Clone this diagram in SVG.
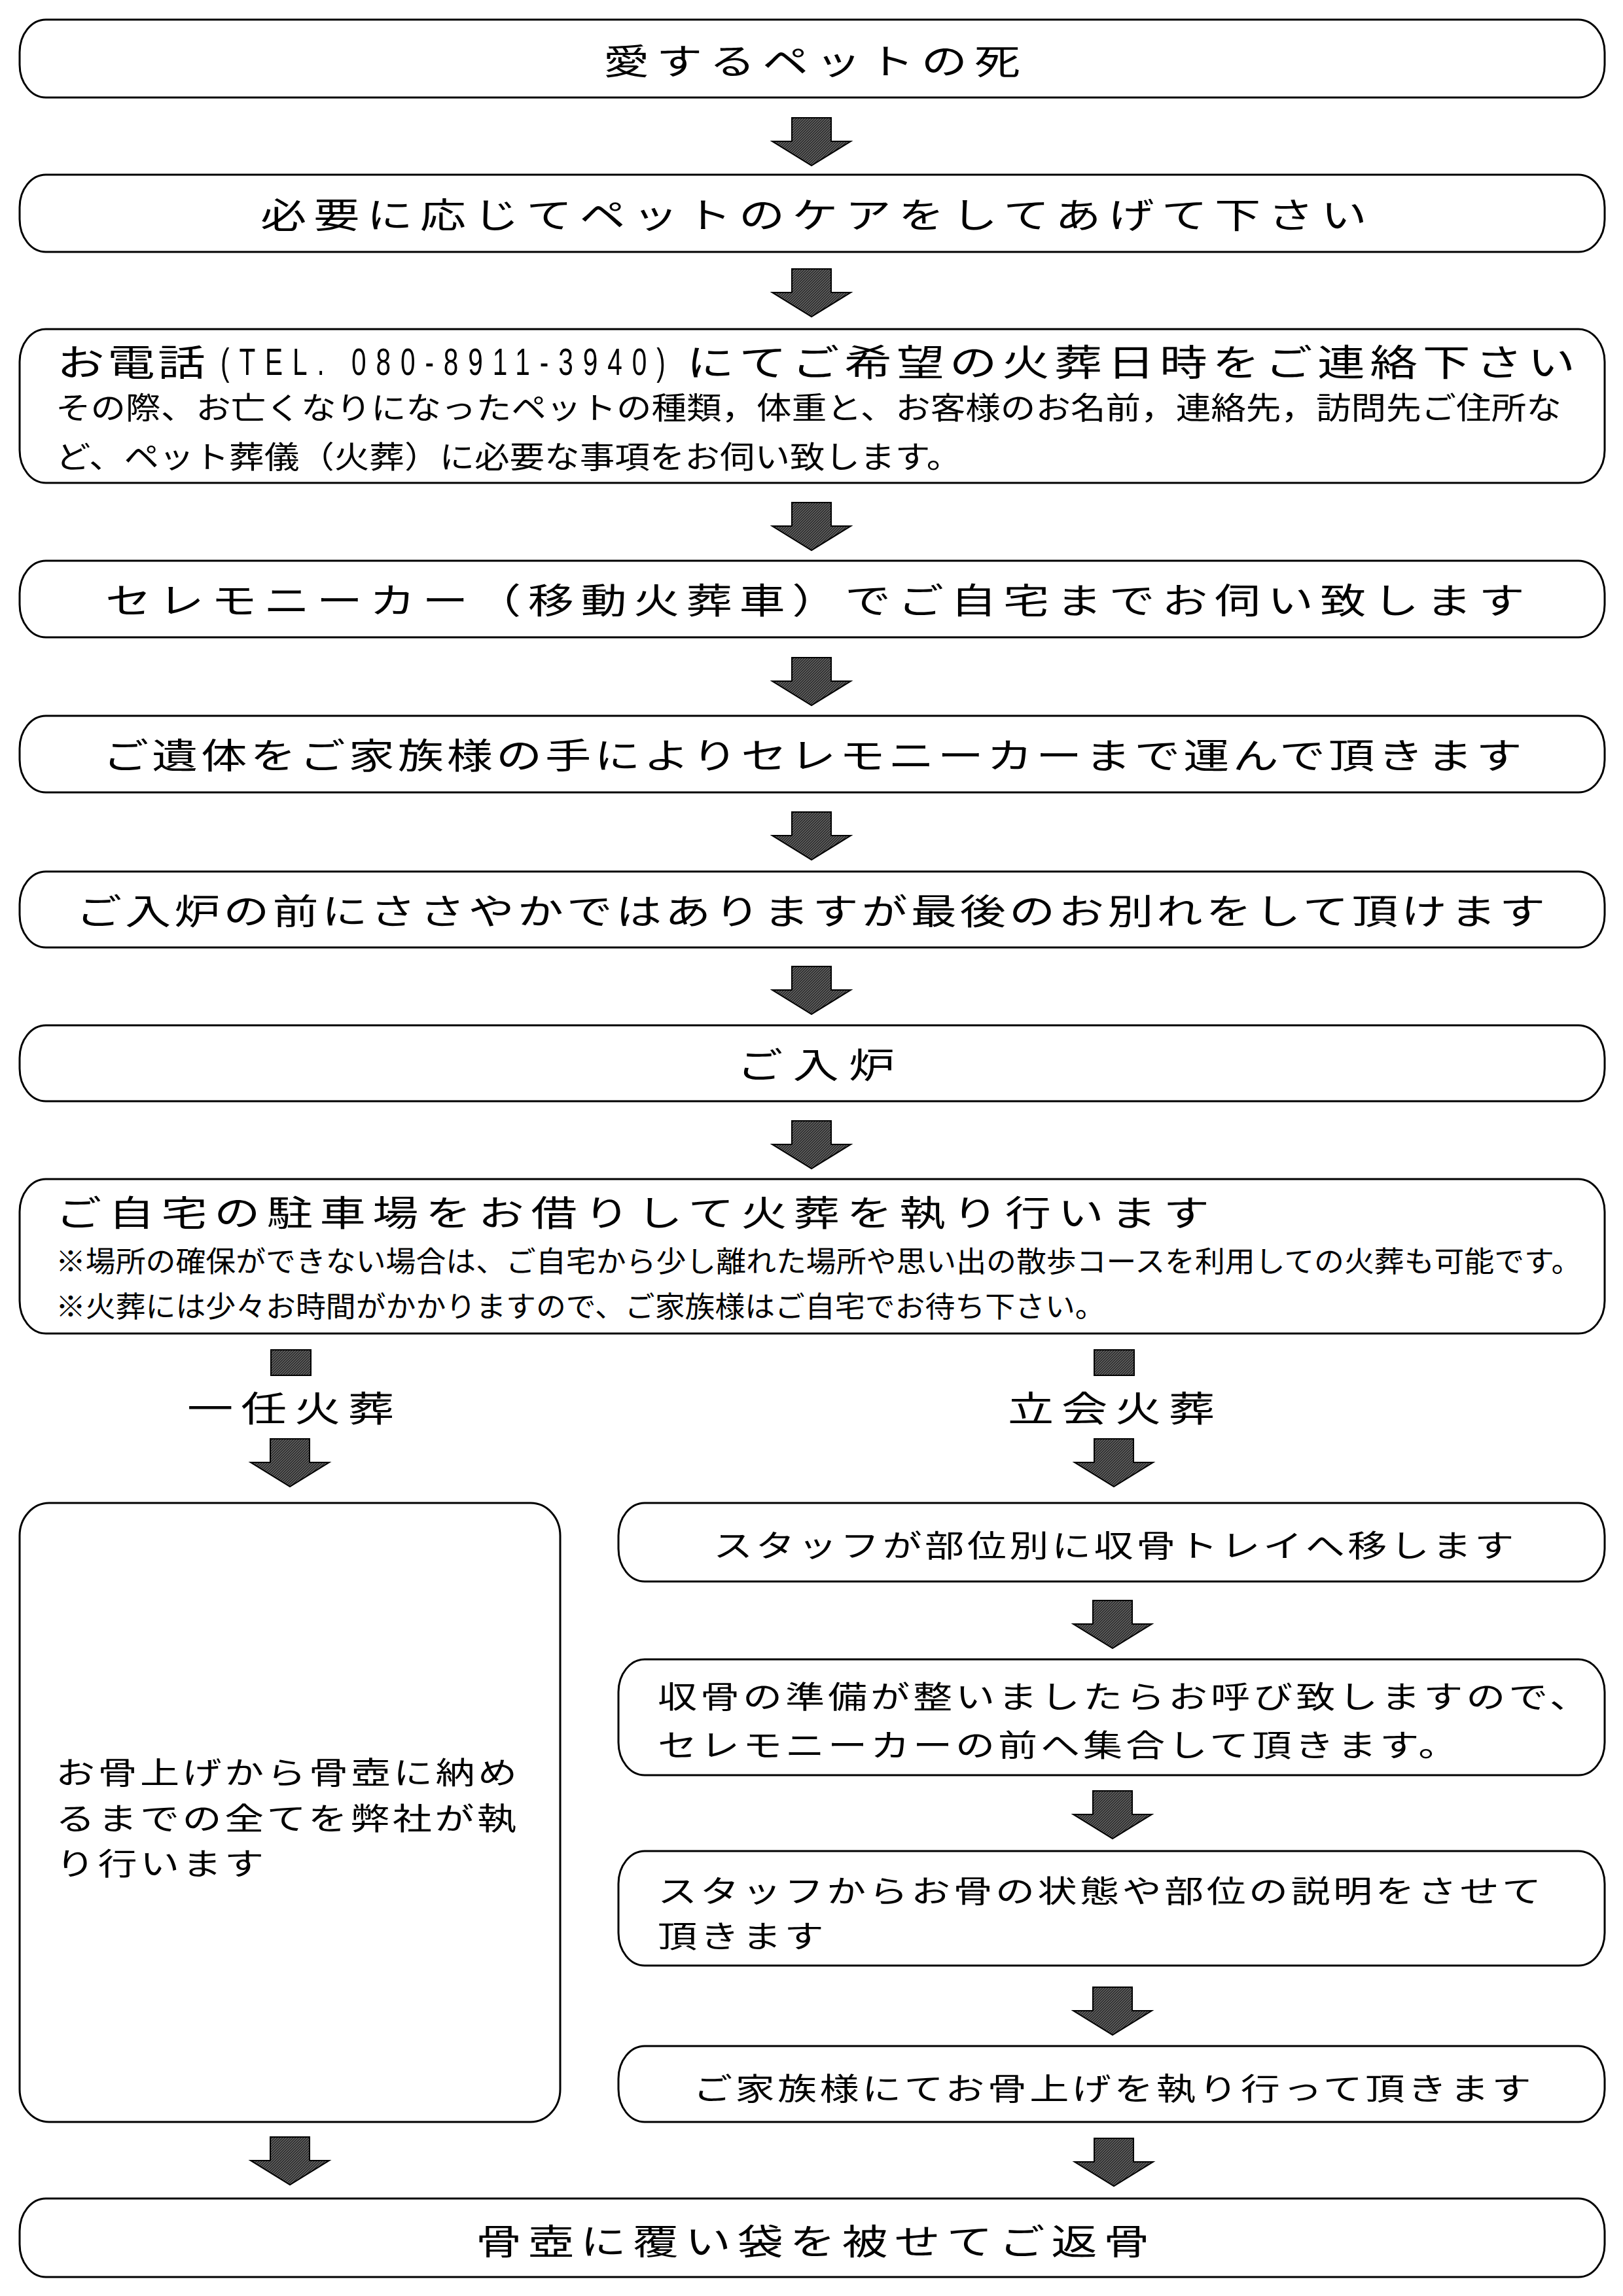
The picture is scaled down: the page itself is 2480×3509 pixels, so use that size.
<svg xmlns="http://www.w3.org/2000/svg" xmlns:xlink="http://www.w3.org/1999/xlink" width="2480" height="3509" viewBox="0 0 2480 3509">
<style>
.box{fill:#fff;stroke:#000;stroke-width:3}
.t{font-family:"Noto Sans CJK JP","Noto Sans CJK SC",sans-serif;fill:#000}
.big{font-size:54px}
.mid{font-size:47px}
.sm{font-size:44px}
.tel{font-family:"Liberation Sans",sans-serif;font-size:58px;fill:#000}
.arr{fill:url(#hatch);stroke:#000;stroke-width:2}
</style>
<defs>
<pattern id="hatch" width="4" height="4" patternUnits="userSpaceOnUse">
<rect width="4" height="4" fill="#353535"/>
<path d="M-1,1 L1,-1 M0,4 L4,0 M3,5 L5,3" stroke="#8c8c8c" stroke-width="0.8"/>
</pattern>
<path id="arrow" d="M-30,0 H30 V36 H60 L0,73 L-60,36 H-30 Z"/>
</defs>
<rect width="2480" height="3509" fill="#fff"/>

<g id="connectors">
<use xlink:href="#arrow" class="arr" x="1240" y="180"/>
<use xlink:href="#arrow" class="arr" x="1240" y="411"/>
<use xlink:href="#arrow" class="arr" x="1240" y="768"/>
<use xlink:href="#arrow" class="arr" x="1240" y="1005"/>
<use xlink:href="#arrow" class="arr" x="1240" y="1241"/>
<use xlink:href="#arrow" class="arr" x="1240" y="1477"/>
<use xlink:href="#arrow" class="arr" x="1240" y="1713"/>
<rect class="arr" x="414" y="2063" width="61" height="39"/>
<rect class="arr" x="1672" y="2063" width="61" height="39"/>
<use xlink:href="#arrow" class="arr" x="443" y="2199"/>
<use xlink:href="#arrow" class="arr" x="1702" y="2199"/>
<use xlink:href="#arrow" class="arr" x="1700" y="2446"/>
<use xlink:href="#arrow" class="arr" x="1700" y="2737"/>
<use xlink:href="#arrow" class="arr" x="1700" y="3037"/>
<use xlink:href="#arrow" class="arr" x="443" y="3266"/>
<use xlink:href="#arrow" class="arr" x="1702" y="3268"/>
</g>

<g id="n1">
<rect class="box" x="30" y="30" width="2422" height="119" rx="40" ry="50"/>
<text class="t big" transform="matrix(1.3,0,0,1,922,114)" letter-spacing="8.3">愛するペットの死</text>
</g>

<g id="n2">
<rect class="box" x="30" y="267" width="2422" height="118" rx="40" ry="50"/>
<text class="t big" transform="matrix(1.3,0,0,1,398,349)" letter-spacing="8.5">必要に応じてペットのケアをしてあげて下さい</text>
</g>

<g id="n3">
<rect class="box" x="30" y="503" width="2422" height="235" rx="40" ry="50"/>
<text class="t" font-size="56" transform="matrix(1.3,0,0,1,87,574)" letter-spacing="3.2">お電話</text>
<text class="tel" transform="matrix(0.7,0,0,1,337,573)" textLength="971" lengthAdjust="spacing">(TEL. 080-8911-3940)</text>
<text class="t" font-size="56" transform="matrix(1.3,0,0,1,1049,574)" letter-spacing="5.8">にてご希望の火葬日時をご連絡下さい</text>
<text class="t" font-size="47" transform="matrix(1.14,0,0,1,85,640)">その際、お亡くなりになったペットの種類，体重と、お客様のお名前，連絡先，訪問先ご住所な</text>
<text class="t" font-size="47" transform="matrix(1.14,0,0,1,85,715)">ど、ペット葬儀（火葬）に必要な事項をお伺い致します。</text>
</g>

<g id="n4">
<rect class="box" x="30" y="857" width="2422" height="117" rx="40" ry="50"/>
<text class="t big" transform="matrix(1.3,0,0,1,161,938)" letter-spacing="8.1">セレモニーカー（移動火葬車）でご自宅までお伺い致します</text>
</g>

<g id="n5">
<rect class="box" x="30" y="1094" width="2422" height="117" rx="40" ry="50"/>
<text class="t big" transform="matrix(1.3,0,0,1,157,1175)" letter-spacing="3.8">ご遺体をご家族様の手によりセレモニーカーまで運んで頂きます</text>
</g>

<g id="n6">
<rect class="box" x="30" y="1332" width="2422" height="116" rx="40" ry="50"/>
<text class="t big" transform="matrix(1.3,0,0,1,116,1413)" letter-spacing="3.8">ご入炉の前にささやかではありますが最後のお別れをして頂けます</text>
</g>

<g id="n7">
<rect class="box" x="30" y="1567" width="2422" height="116" rx="40" ry="50"/>
<text class="t big" transform="matrix(1.3,0,0,1,1126,1648)" letter-spacing="11.8">ご入炉</text>
</g>

<g id="n8">
<rect class="box" x="30" y="1802" width="2422" height="236" rx="40" ry="50"/>
<text class="t big" transform="matrix(1.3,0,0,1,85,1874)" letter-spacing="8.1">ご自宅の駐車場をお借りして火葬を執り行います</text>
<text class="t sm" transform="matrix(1.043,0,0,1,85,1944)">※場所の確保ができない場合は、ご自宅から少し離れた場所や思い出の散歩コースを利用しての火葬も可能です。</text>
<text class="t sm" transform="matrix(1.043,0,0,1,85,2013)">※火葬には少々お時間がかかりますので、ご家族様はご自宅でお待ち下さい。</text>
</g>

<g id="label-left">
<text class="t big" transform="matrix(1.3,0,0,1,286,2173)" letter-spacing="9.1">一任火葬</text>
</g>
<g id="label-right">
<text class="t big" transform="matrix(1.3,0,0,1,1540,2173)" letter-spacing="9.1">立会火葬</text>
</g>

<g id="left-box">
<rect class="box" x="30" y="2297" width="826" height="946" rx="45" ry="50"/>
<text class="t mid" transform="matrix(1.28,0,0,1,85,2726)" letter-spacing="3.4">お骨上げから骨壺に納め</text>
<text class="t mid" transform="matrix(1.28,0,0,1,85,2796)" letter-spacing="3.4">るまでの全てを弊社が執</text>
<text class="t mid" transform="matrix(1.28,0,0,1,85,2865)" letter-spacing="3.4">り行います</text>
</g>

<g id="r1">
<rect class="box" x="945" y="2297" width="1507" height="120" rx="40" ry="50"/>
<text class="t mid" transform="matrix(1.28,0,0,1,1090,2379)" letter-spacing="3.5">スタッフが部位別に収骨トレイへ移します</text>
</g>

<g id="r2">
<rect class="box" x="945" y="2536" width="1507" height="177" rx="40" ry="50"/>
<text class="t mid" transform="matrix(1.28,0,0,1,1005,2610)" letter-spacing="3.8">収骨の準備が整いましたらお呼び致しますので、</text>
<text class="t mid" transform="matrix(1.28,0,0,1,1005,2684)" letter-spacing="3.8">セレモニーカーの前へ集合して頂きます。</text>
</g>

<g id="r3">
<rect class="box" x="945" y="2829" width="1507" height="175" rx="40" ry="50"/>
<text class="t mid" transform="matrix(1.28,0,0,1,1005,2907)" letter-spacing="3.4">スタッフからお骨の状態や部位の説明をさせて</text>
<text class="t mid" transform="matrix(1.28,0,0,1,1005,2976)" letter-spacing="3.4">頂きます</text>
</g>

<g id="r4">
<rect class="box" x="945" y="3127" width="1507" height="116" rx="40" ry="50"/>
<text class="t mid" transform="matrix(1.28,0,0,1,1059,3209)" letter-spacing="3.4">ご家族様にてお骨上げを執り行って頂きます</text>
</g>

<g id="n-last">
<rect class="box" x="30" y="3360" width="2422" height="120" rx="40" ry="50"/>
<text class="t big" transform="matrix(1.3,0,0,1,727,3446)" letter-spacing="7.5">骨壺に覆い袋を被せてご返骨</text>
</g>
</svg>
